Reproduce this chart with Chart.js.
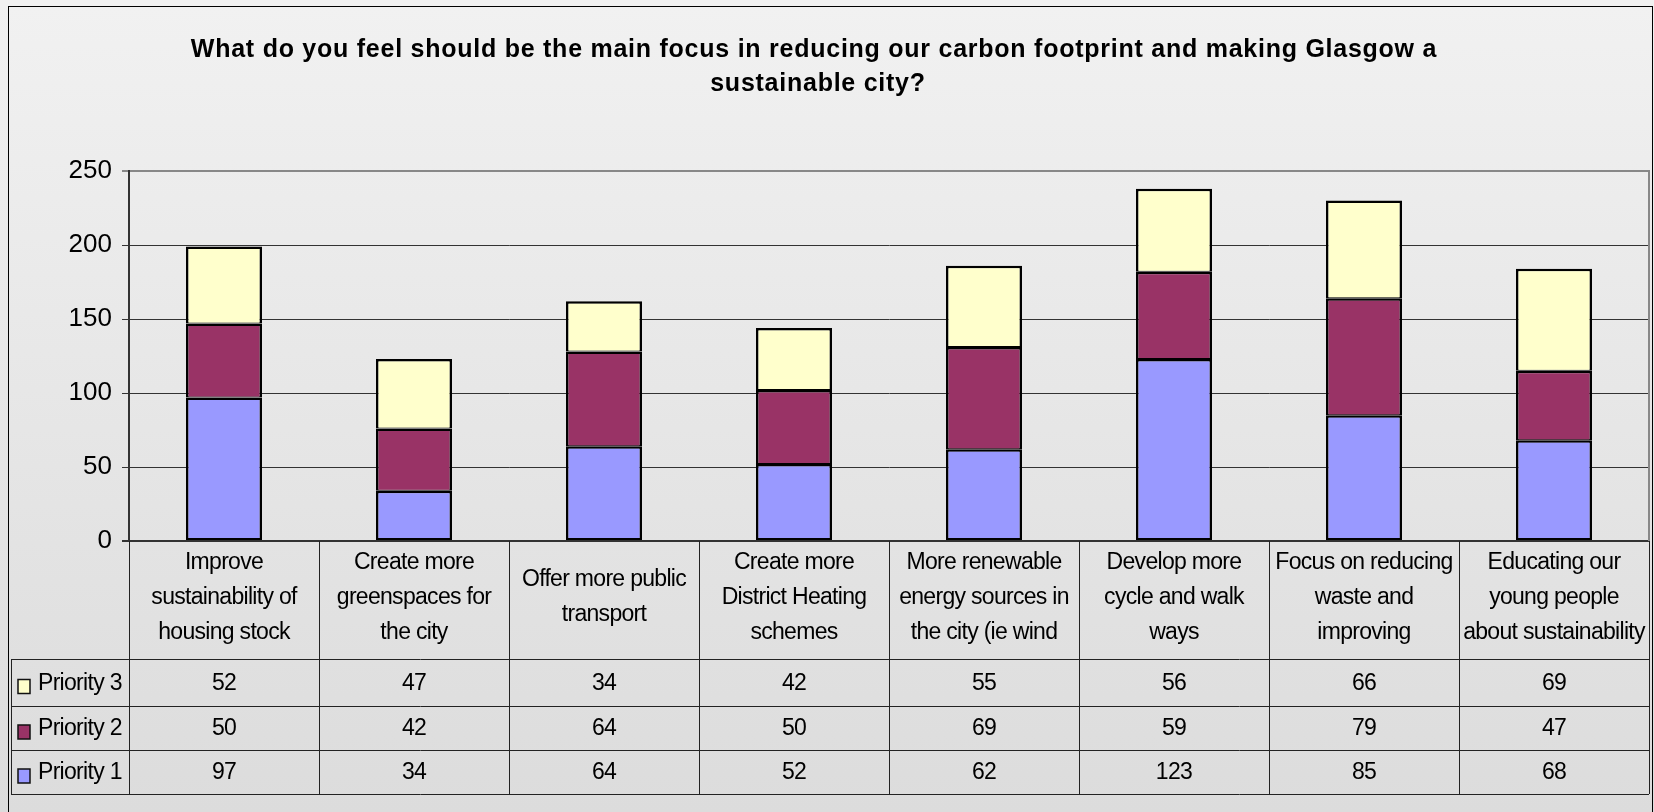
<!DOCTYPE html>
<html>
<head>
<meta charset="utf-8">
<script src="https://cdn.jsdelivr.net/npm/chart.js@4/dist/chart.umd.min.js"></script>
<style>
html,body{margin:0;padding:0;background:#ffffff;}
#wrap{width:1654px;height:812px;}
</style>
</head>
<body>
<div id="wrap"><canvas id="c" width="1654" height="812"></canvas></div>
<script>
const titleLines = ["What do you feel should be the main focus in reducing our carbon footprint and making Glasgow a", "sustainable city?"];
const categories = [
  ["Improve", "sustainability of", "housing stock"],
  ["Create more", "greenspaces for", "the city"],
  ["Offer more public", "transport"],
  ["Create more", "District Heating", "schemes"],
  ["More renewable", "energy sources in", "the city (ie wind"],
  ["Develop more", "cycle and walk", "ways"],
  ["Focus on reducing", "waste and", "improving"],
  ["Educating our", "young people", "about sustainability"]
];
const seriesNames = ["Priority 1", "Priority 2", "Priority 3"];
const priority1 = [97, 34, 64, 52, 62, 123, 85, 68];
const priority2 = [50, 42, 64, 50, 69, 59, 79, 47];
const priority3 = [52, 47, 34, 42, 55, 56, 66, 69];
const seriesColors = ["#9999FF", "#993366", "#FFFFCC"];
const yTicks = [0, 50, 100, 150, 200, 250];

const FONT = '"Liberation Sans", Arial, sans-serif';

function setSpacing(ctx, v) { try { ctx.letterSpacing = v; } catch (e) {} }

const bgPlugin = {
  id: 'bg',
  beforeDraw(chart) {
    const ctx = chart.ctx;
    ctx.save();
    const g = ctx.createLinearGradient(0, 6, 0, 812);
    g.addColorStop(0, '#f1f1f1');
    g.addColorStop(1, '#dcdcdc');
    ctx.fillStyle = g;
    ctx.fillRect(0, 0, chart.width, chart.height);
    ctx.strokeStyle = '#000';
    ctx.lineWidth = 1;
    ctx.strokeRect(8.5, 6.5, 1644, 820);
    // title
    ctx.fillStyle = '#000';
    ctx.font = 'bold 25px ' + FONT;
    setSpacing(ctx, '0.75px');
    ctx.textAlign = 'center';
    ctx.textBaseline = 'alphabetic';
    ctx.fillText(titleLines[0], 814, 57);
    ctx.fillText(titleLines[1], 818, 91);
    setSpacing(ctx, '0px');
    ctx.restore();
  }
};

const tablePlugin = {
  id: 'table',
  afterDraw(chart) {
    const ctx = chart.ctx;
    const xs = chart.scales.x;
    const area = chart.chartArea;
    const n = categories.length;
    const colW = (area.right - area.left) / n;
    const top = area.bottom;
    const rows = [659, 706, 750, 794];
    ctx.save();
    // plot right border
    ctx.strokeStyle = '#888';
    ctx.lineWidth = 2;
    ctx.beginPath();
    ctx.moveTo(area.right, area.top - 1);
    ctx.lineTo(area.right, area.bottom);
    ctx.stroke();
    // table lines
    ctx.strokeStyle = '#222';
    ctx.lineWidth = 1;
    ctx.beginPath();
    for (let i = 0; i <= n; i++) {
      const x = Math.round(area.left + i * colW) + 0.5;
      ctx.moveTo(x, top);
      ctx.lineTo(x, rows[3]);
    }
    for (const y of rows) {
      ctx.moveTo(11, y + 0.5);
      ctx.lineTo(area.right, y + 0.5);
    }
    ctx.moveTo(11.5, rows[0]);
    ctx.lineTo(11.5, rows[3]);
    ctx.stroke();
    // header labels
    ctx.fillStyle = '#000';
    ctx.font = '23px ' + FONT;
    setSpacing(ctx, '-0.7px');
    ctx.textAlign = 'center';
    ctx.textBaseline = 'alphabetic';
    const lh = 35;
    categories.forEach((lines, i) => {
      const cx = xs.getPixelForValue(i);
      const start = 603.5 - (lines.length - 1) * lh / 2;
      lines.forEach((t, k) => ctx.fillText(t, cx, start + k * lh));
    });
    // value rows: Priority 3, 2, 1
    const rowData = [priority3, priority2, priority1];
    const rowNames = [seriesNames[2], seriesNames[1], seriesNames[0]];
    const rowColors = [seriesColors[2], seriesColors[1], seriesColors[0]];
    ctx.textBaseline = 'middle';
    for (let r = 0; r < 3; r++) {
      const rc = (rows[r] + rows[r + 1]) / 2;
      const yc = rc + 1;
      ctx.textAlign = 'center';
      rowData[r].forEach((v, i) => ctx.fillText(String(v), xs.getPixelForValue(i), yc));
      // legend key
      ctx.fillStyle = rowColors[r];
      ctx.fillRect(18, rc - 3, 12, 14);
      ctx.strokeStyle = '#111';
      ctx.lineWidth = 1.5;
      ctx.strokeRect(18, rc - 3, 12, 14);
      ctx.fillStyle = '#000';
      ctx.textAlign = 'left';
      ctx.fillText(rowNames[r], 38, yc);
    }
    setSpacing(ctx, '0px');
    ctx.restore();
  }
};

const datasets = [priority1, priority2, priority3].map((d, i) => ({
  label: seriesNames[i],
  data: d,
  backgroundColor: seriesColors[i],
  borderColor: '#000',
  borderWidth: i === 0 ? { top: 2.5, left: 2.5, right: 2.5, bottom: 2 } : { top: 2.5, left: 2.5, right: 2.5, bottom: 1 },
  borderSkipped: false,
  inflateAmount: 0,
  barPercentage: 0.4,
  categoryPercentage: 1.0
}));

new Chart(document.getElementById('c'), {
  type: 'bar',
  data: { labels: categories.map(c => c.join(' ')), datasets },
  options: {
    responsive: false,
    animation: false,
    layout: { padding: { left: 0, top: 171, right: 5, bottom: 271 } },
    plugins: { legend: { display: false }, title: { display: false }, tooltip: { enabled: false } },
    scales: {
      x: { stacked: true, display: false },
      y: {
        stacked: true,
        min: 0, max: 250,
        afterBuildTicks(scale) { scale.ticks = yTicks.map(v => ({ value: v })); },
        afterFit(scale) { scale.width = 129; },
        ticks: { color: '#000', font: { family: FONT, size: 26 }, padding: 10 },
        grid: {
          color: ctx => ctx.tick && ctx.tick.value === 250 ? '#888' : '#333',
          lineWidth: ctx => ctx.tick && (ctx.tick.value === 250 || ctx.tick.value === 0) ? 2 : 1,
          tickLength: 7,
          drawTicks: true
        },
        border: { color: '#333', width: 2 }
      }
    }
  },
  plugins: [bgPlugin, tablePlugin]
});
</script>
</body>
</html>
